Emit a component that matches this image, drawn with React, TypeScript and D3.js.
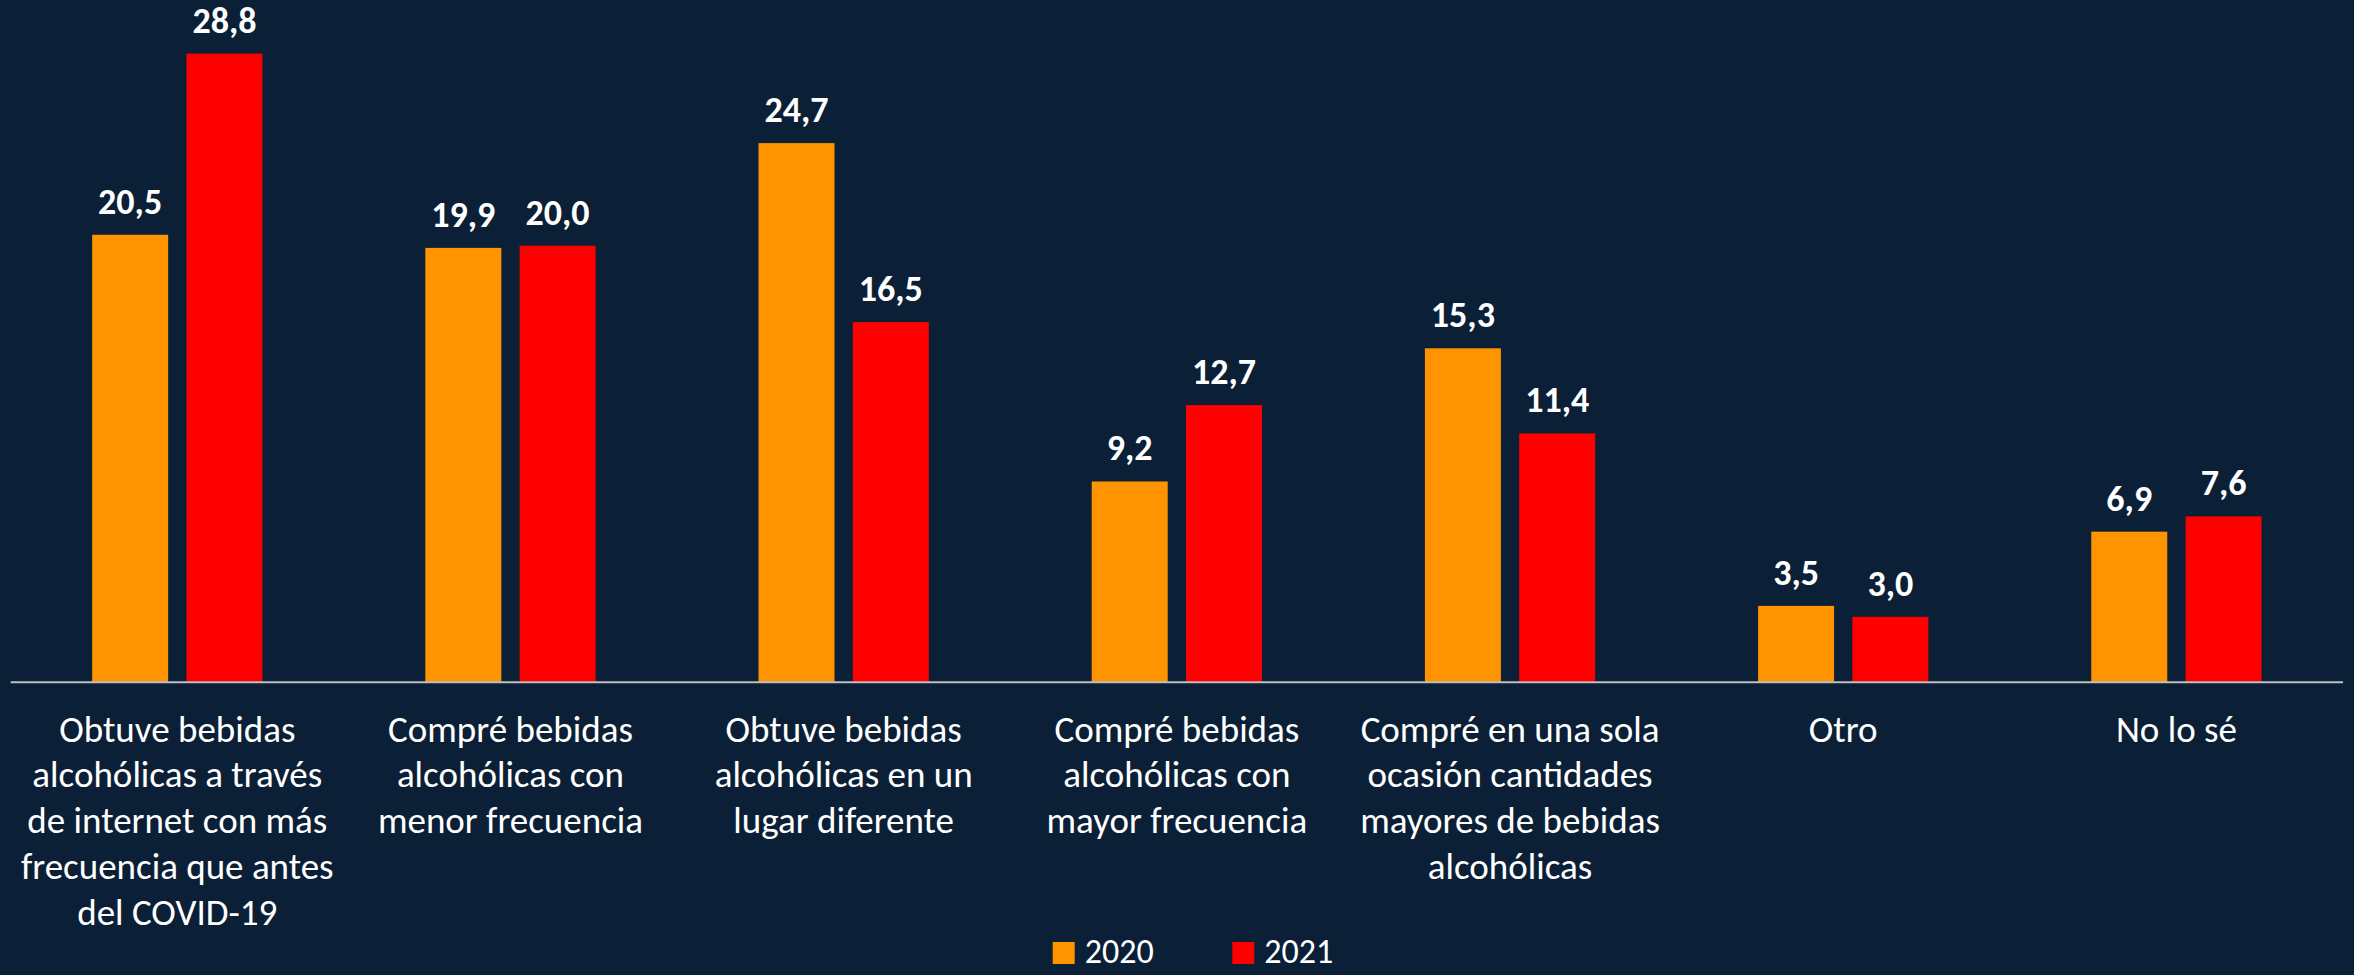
import { useEffect, useRef } from 'react';
import * as d3 from 'd3';

// chart data
const categories = [
  'Obtuve bebidas\nalcohólicas a través\nde internet con más\nfrecuencia que antes\ndel COVID-19',
  'Compré bebidas\nalcohólicas con\nmenor frecuencia',
  'Obtuve bebidas\nalcohólicas en un\nlugar diferente',
  'Compré bebidas\nalcohólicas con\nmayor frecuencia',
  'Compré en una sola\nocasión cantidades\nmayores de bebidas\nalcohólicas',
  'Otro',
  'No lo sé',
];
const seriesNames = ['2020', '2021'];
const values2020 = [20.5, 19.9, 24.7, 9.2, 15.3, 3.5, 6.9];
const values2021 = [28.8, 20.0, 16.5, 12.7, 11.4, 3.0, 7.6];
const seriesColors = ['#ff9300', '#ff0000'];

const WIDTH = 2354;
const HEIGHT = 975;
const FONT = 'Carlito, Calibri, Lato, sans-serif';

const App = () => {
  const svgRef = useRef<SVGSVGElement>(null);

  useEffect(() => {
    document.body.style.margin = '0';
    document.body.style.background = '#0b2036';

    const svg = d3.select(svgRef.current);
    svg.selectAll('*').remove();

    svg.append('rect')
      .attr('width', WIDTH)
      .attr('height', HEIGHT)
      .attr('fill', '#0b2036');

    const baseY = 682.3;
    const x0 = d3.scaleBand<number>()
      .domain(d3.range(categories.length))
      .range([10.7, 2343]);

    // two bars per category, with a small gap between them
    const x1 = d3.scaleBand<string>()
      .domain(seriesNames)
      .range([0, x0.bandwidth()])
      .paddingInner(0.194)
      .paddingOuter(0.864);

    const y = d3.scaleLinear()
      .domain([0, 30])
      .range([baseY, baseY - 30 * 21.83]);

    const locale = d3.formatLocale({ decimal: ',', thousands: '.', grouping: [3], currency: ['', ''] });
    const fmt = locale.format('.1f');

    const rows = categories.map((c, i) => ({ i, vals: [values2020[i], values2021[i]] }));

    const groups = svg.selectAll('g.cat')
      .data(rows)
      .enter().append('g')
      .attr('class', 'cat')
      .attr('transform', d => `translate(${x0(d.i)},0)`);

    const bars = groups.selectAll('g.bar')
      .data(d => d.vals.map((v, s) => ({ v, s })))
      .enter().append('g')
      .attr('class', 'bar');

    bars.append('rect')
      .attr('x', d => x1(seriesNames[d.s])!)
      .attr('y', d => y(d.v))
      .attr('width', x1.bandwidth())
      .attr('height', d => baseY - y(d.v))
      .attr('fill', d => seriesColors[d.s]);

    // value labels
    bars.append('text')
      .attr('x', d => x1(seriesNames[d.s])! + x1.bandwidth() / 2)
      .attr('y', d => y(d.v) - 21)
      .attr('text-anchor', 'middle')
      .attr('font-family', FONT)
      .attr('font-size', 36)
      .attr('font-weight', 700)
      .attr('fill', '#ffffff')
      .text(d => fmt(d.v));

    // baseline
    svg.append('line')
      .attr('x1', x0.range()[0])
      .attr('x2', x0.range()[1])
      .attr('y1', baseY)
      .attr('y2', baseY)
      .attr('stroke', '#bfbfbf')
      .attr('stroke-width', 2);

    // category labels
    const catText = svg.selectAll('text.catlabel')
      .data(categories)
      .enter().append('text')
      .attr('class', 'catlabel')
      .attr('text-anchor', 'middle')
      .attr('font-family', FONT)
      .attr('font-size', 37)
      .attr('fill', '#ffffff');

    catText.each(function (d, i) {
      const cx = x0(i)! + x0.bandwidth() / 2;
      d3.select(this).selectAll('tspan')
        .data(d.split('\n'))
        .enter().append('tspan')
        .attr('x', cx)
        .attr('y', (_, k) => 741.7 + k * 45.7)
        .text(t => t);
    });

    // legend (kept a few px above the bottom edge so the text is not clipped)
    const legendX = [1052.7, 1232.3];
    const legend = svg.selectAll('g.legend')
      .data(seriesNames)
      .enter().append('g')
      .attr('class', 'legend')
      .attr('transform', (_, i) => `translate(${legendX[i]},942)`);

    legend.append('rect')
      .attr('width', 22)
      .attr('height', 22)
      .attr('fill', (_, i) => seriesColors[i]);

    legend.append('text')
      .attr('x', 32)
      .attr('y', 21)
      .attr('font-family', FONT)
      .attr('font-size', 34)
      .attr('fill', '#ffffff')
      .text(d => d);
  }, []);

  return (
    <svg ref={svgRef} width={WIDTH} height={HEIGHT} style={{ display: 'block' }}></svg>
  );
};

export default App;
